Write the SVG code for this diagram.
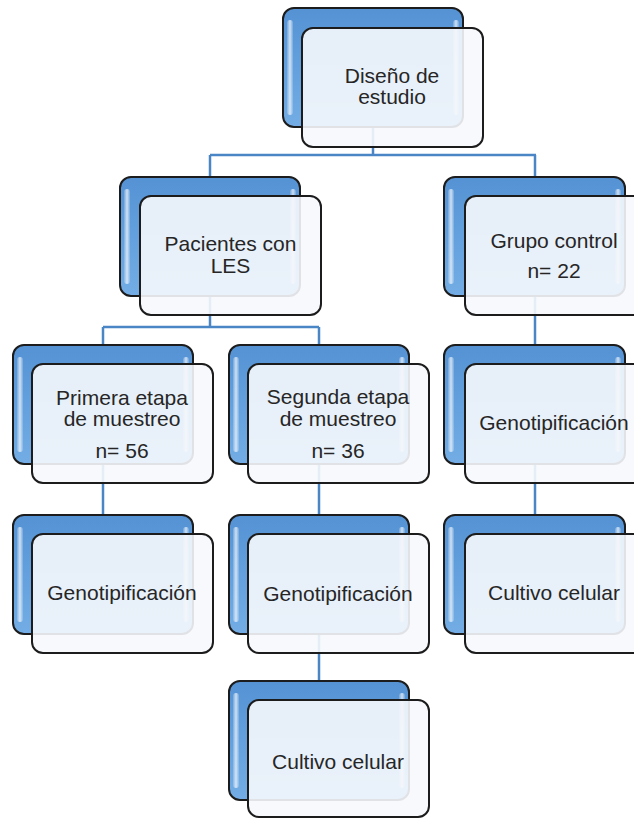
<svg xmlns="http://www.w3.org/2000/svg" width="634" height="819" viewBox="0 0 634 819">
<style>
.back{fill:url(#blueGrad);stroke:#1c1c1c;stroke-width:2}
.hl{fill:url(#hlGrad)}
.front{fill:#F6F8FC;fill-opacity:0.9;stroke:#1c1c1c;stroke-width:2}
.t{font-family:"Liberation Sans",Arial,sans-serif;font-size:21px;fill:#262626;text-anchor:middle}
.conn{fill:none;stroke:#4A86C6;stroke-width:2.5}
</style>
<defs>
<linearGradient id="blueGrad" x1="0" y1="0" x2="0" y2="1">
<stop offset="0" stop-color="#5592D4"/>
<stop offset="0.5" stop-color="#63A0DD"/>
<stop offset="1" stop-color="#74ADE5"/>
</linearGradient>
<linearGradient id="hlGrad" x1="0" y1="0" x2="1" y2="0">
<stop offset="0" stop-color="#ffffff" stop-opacity="0.15"/>
<stop offset="0.5" stop-color="#ffffff" stop-opacity="0.7"/>
<stop offset="1" stop-color="#ffffff" stop-opacity="0.15"/>
</linearGradient>
</defs>
<rect width="634" height="819" fill="#ffffff"/>
<g id="connectors">
<path class="conn" d="M373 128 V155 M210 155 H536 M210 155 V177 M535 155 V177"/>
<path class="conn" d="M210 296 V327 M103 327 H319 M103 327 V345 M319 327 V345"/>
<path class="conn" d="M535 296 V345"/>
<path class="conn" d="M103 464 V515"/>
<path class="conn" d="M319 464 V515"/>
<path class="conn" d="M535 464 V515"/>
<path class="conn" d="M319 634 V681"/>
</g>
<g id="n-diseno">
<rect class="back" x="283" y="8" width="180" height="119" rx="11"/>
<rect class="hl" x="287" y="20" width="6" height="95" rx="3"/>
<rect class="hl" x="453" y="20" width="6" height="95" rx="3"/>
<rect class="front" x="302" y="28" width="181" height="119" rx="11"/>
<text class="t" x="392" y="83">Diseño de</text>
<text class="t" x="392" y="104">estudio</text>
</g>
<g id="n-pacientes">
<rect class="back" x="120" y="177" width="180" height="119" rx="11"/>
<rect class="hl" x="124" y="189" width="6" height="95" rx="3"/>
<rect class="hl" x="290" y="189" width="6" height="95" rx="3"/>
<rect class="front" x="140" y="196" width="181" height="119" rx="11"/>
<text class="t" x="230.5" y="251">Pacientes con</text>
<text class="t" x="230.5" y="273">LES</text>
</g>
<g id="n-grupo">
<rect class="back" x="444" y="177" width="181" height="119" rx="11"/>
<rect class="hl" x="448" y="189" width="6" height="95" rx="3"/>
<rect class="hl" x="615" y="189" width="6" height="95" rx="3"/>
<rect class="front" x="465" y="196" width="181" height="119" rx="11"/>
<text class="t" x="554" y="248">Grupo control</text>
<text class="t" x="554" y="278">n= 22</text>
</g>
<g id="n-primera">
<rect class="back" x="13" y="345" width="180" height="119" rx="11"/>
<rect class="hl" x="17" y="357" width="6" height="95" rx="3"/>
<rect class="hl" x="183" y="357" width="6" height="95" rx="3"/>
<rect class="front" x="32" y="364" width="181" height="119" rx="11"/>
<text class="t" x="122" y="405">Primera etapa</text>
<text class="t" x="122" y="426">de muestreo</text>
<text class="t" x="122" y="458">n= 56</text>
</g>
<g id="n-segunda">
<rect class="back" x="229" y="345" width="180" height="119" rx="11"/>
<rect class="hl" x="233" y="357" width="6" height="95" rx="3"/>
<rect class="hl" x="399" y="357" width="6" height="95" rx="3"/>
<rect class="front" x="248" y="364" width="181" height="119" rx="11"/>
<text class="t" x="338" y="404">Segunda etapa</text>
<text class="t" x="338" y="426">de muestreo</text>
<text class="t" x="338" y="458">n= 36</text>
</g>
<g id="n-geno-control">
<rect class="back" x="444" y="345" width="181" height="119" rx="11"/>
<rect class="hl" x="448" y="357" width="6" height="95" rx="3"/>
<rect class="hl" x="615" y="357" width="6" height="95" rx="3"/>
<rect class="front" x="465" y="364" width="181" height="119" rx="11"/>
<text class="t" x="554" y="430">Genotipificación</text>
</g>
<g id="n-geno-primera">
<rect class="back" x="13" y="515" width="180" height="119" rx="11"/>
<rect class="hl" x="17" y="527" width="6" height="95" rx="3"/>
<rect class="hl" x="183" y="527" width="6" height="95" rx="3"/>
<rect class="front" x="32" y="534" width="181" height="119" rx="11"/>
<text class="t" x="122" y="600">Genotipificación</text>
</g>
<g id="n-geno-segunda">
<rect class="back" x="229" y="515" width="180" height="119" rx="11"/>
<rect class="hl" x="233" y="527" width="6" height="95" rx="3"/>
<rect class="hl" x="399" y="527" width="6" height="95" rx="3"/>
<rect class="front" x="248" y="534" width="181" height="119" rx="11"/>
<text class="t" x="338" y="601">Genotipificación</text>
</g>
<g id="n-cultivo-control">
<rect class="back" x="444" y="515" width="181" height="119" rx="11"/>
<rect class="hl" x="448" y="527" width="6" height="95" rx="3"/>
<rect class="hl" x="615" y="527" width="6" height="95" rx="3"/>
<rect class="front" x="465" y="534" width="181" height="119" rx="11"/>
<text class="t" x="554" y="600">Cultivo celular</text>
</g>
<g id="n-cultivo-segunda">
<rect class="back" x="229" y="681" width="180" height="119" rx="11"/>
<rect class="hl" x="233" y="693" width="6" height="95" rx="3"/>
<rect class="hl" x="399" y="693" width="6" height="95" rx="3"/>
<rect class="front" x="248" y="700" width="181" height="117" rx="11"/>
<text class="t" x="338" y="769">Cultivo celular</text>
</g>
</svg>
